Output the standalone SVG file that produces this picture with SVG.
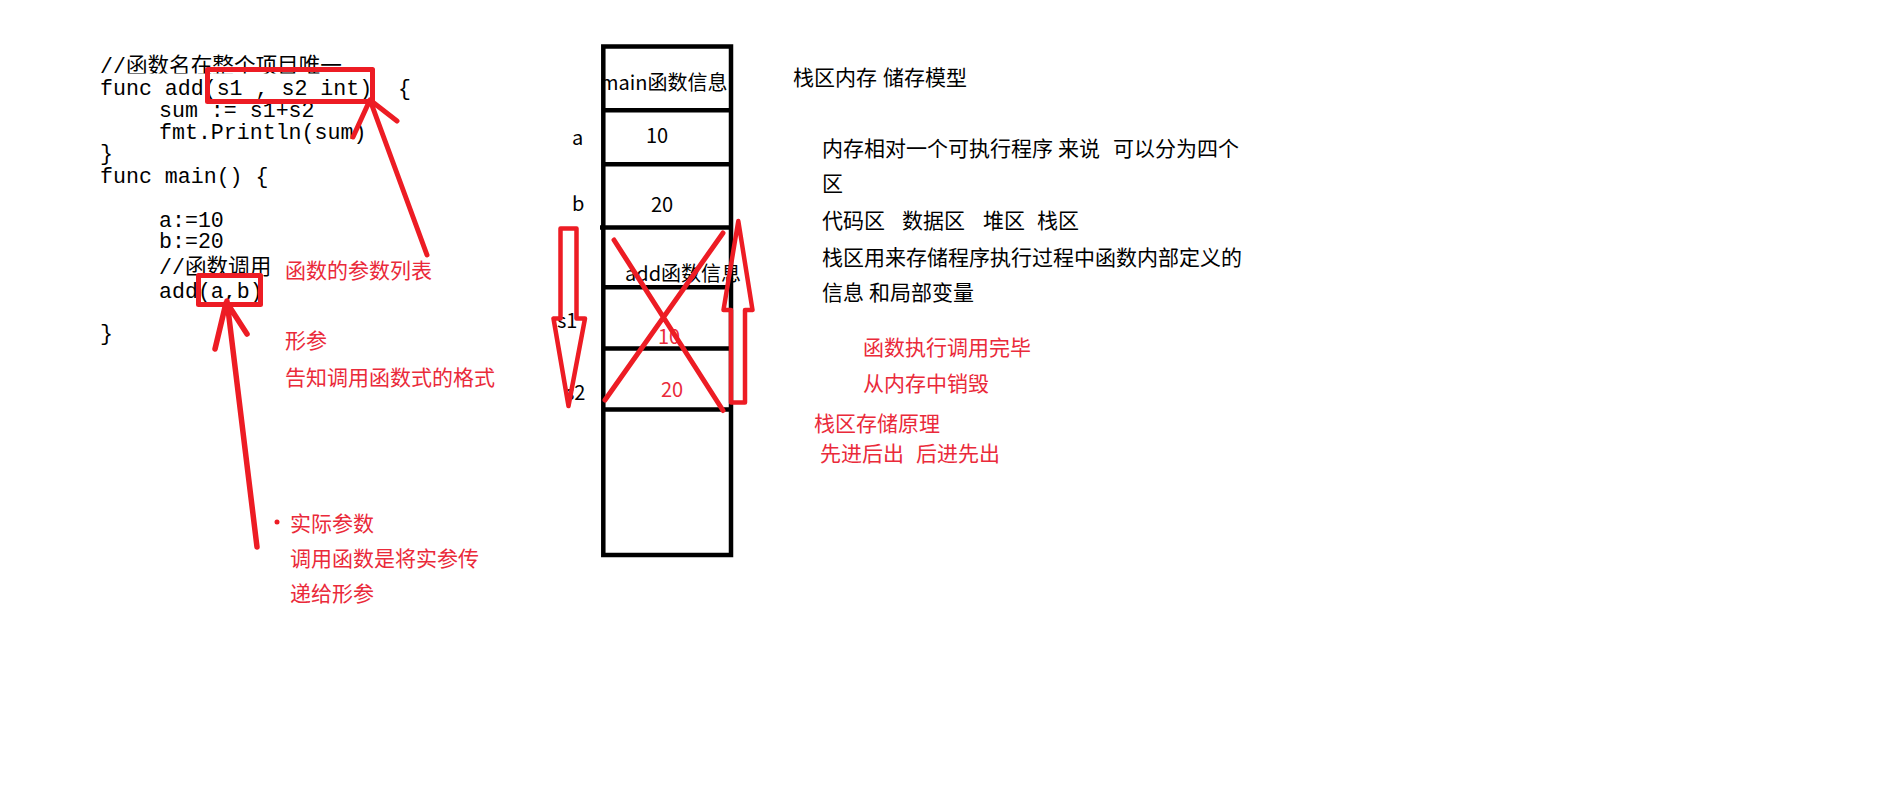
<svg xmlns="http://www.w3.org/2000/svg" width="1902" height="806" viewBox="0 0 1902 806">
<style>
.code{font-family:"Liberation Mono","Noto Sans CJK SC",monospace;font-size:21.6px;fill:#000}
.cjk{font-family:"Noto Sans CJK SC","Noto Sans",sans-serif;font-size:21px;fill:#000}
.stk{font-family:"Noto Sans CJK SC","Noto Sans",sans-serif;font-size:20px;fill:#000}
.red{fill:#ea2a3a}
.rs{fill:none;stroke:#ed1c24;stroke-width:5;stroke-linecap:round;stroke-linejoin:round}
.bk{fill:none;stroke:#000;stroke-width:4.5}
</style>
<defs>
<clipPath id="clipTop"><rect x="0" y="0" width="600" height="73.5"/></clipPath>
<clipPath id="clipSum"><rect x="0" y="103" width="600" height="40"/></clipPath>
</defs>
<rect width="1902" height="806" fill="#fff"/>

<g id="code">
<text class="code" x="100" y="73" clip-path="url(#clipTop)">//函数名在整个项目唯一</text>
<text class="code" x="100" y="95" xml:space="preserve">func add(s1 , s2 int)  {</text>
<text class="code" x="159" y="117" clip-path="url(#clipSum)">sum := s1+s2</text>
<text class="code" x="159" y="139">fmt.Println(sum)</text>
<text class="code" x="100" y="160">}</text>
<text class="code" x="100" y="183">func main() {</text>
<text class="code" x="159" y="227">a:=10</text>
<text class="code" x="159" y="248">b:=20</text>
<text class="code" x="159" y="274">//函数调用</text>
<text class="code" x="159" y="298">add(a,b)</text>
<text class="code" x="100" y="340">}</text>
</g>

<g id="param-boxes">
<rect class="rs" x="207.5" y="69.5" width="165" height="32" stroke-linecap="butt" stroke-linejoin="miter"/>
<rect class="rs" x="198.5" y="275.5" width="62" height="29" stroke-linecap="butt" stroke-linejoin="miter"/>
</g>

<g id="annotations">
<text class="cjk red" x="285" y="278">函数的参数列表</text>
<text class="cjk red" x="285" y="348">形参</text>
<text class="cjk red" x="285" y="385">告知调用函数式的格式</text>
<circle cx="277" cy="522" r="2.5" fill="#ed1c24"/>
<text class="cjk red" x="290" y="531">实际参数</text>
<text class="cjk red" x="290" y="566">调用函数是将实参传</text>
<text class="cjk red" x="290" y="601">递给形参</text>
</g>

<g id="stack">
<rect class="bk" x="603.3" y="46.5" width="127.7" height="508.5"/>
<line class="bk" x1="603" y1="110.2" x2="731" y2="110.2"/>
<line class="bk" x1="603" y1="164.3" x2="731" y2="164.3"/>
<line class="bk" x1="600" y1="227.5" x2="731" y2="227.5"/>
<line class="bk" x1="603" y1="287.2" x2="731" y2="287.2"/>
<line class="bk" x1="603" y1="348.5" x2="731" y2="348.5"/>
<line class="bk" x1="603" y1="409.5" x2="731" y2="409.5"/>
<text class="stk" x="600" y="90">main函数信息</text>
<text class="stk" x="572" y="145">a</text>
<text class="stk" x="646" y="143">10</text>
<text class="stk" x="572" y="211">b</text>
<text class="stk" x="651" y="212">20</text>
<text class="stk" x="625" y="281">add函数信息</text>
<text class="stk" x="557" y="328">s1</text>
<text class="stk red" x="658" y="344">10</text>
<text class="stk" x="565" y="400">s2</text>
<text class="stk red" x="661" y="397">20</text>
</g>

<g id="notes">
<text class="cjk" x="793" y="85">栈区内存<tspan x="883">储存模型</tspan></text>
<text class="cjk" x="822" y="156">内存相对一个可执行程序<tspan x="1058">来说</tspan><tspan x="1113">可以分为四个</tspan></text>
<text class="cjk" x="822" y="191">区</text>
<text class="cjk" x="822" y="228">代码区<tspan x="902">数据区</tspan><tspan x="983">堆区</tspan><tspan x="1037">栈区</tspan></text>
<text class="cjk" x="822" y="265">栈区用来存储程序执行过程中函数内部定义的</text>
<text class="cjk" x="822" y="300">信息<tspan x="869">和局部变量</tspan></text>
<text class="cjk red" x="863" y="355">函数执行调用完毕</text>
<text class="cjk red" x="863" y="391">从内存中销毁</text>
<text class="cjk red" x="814" y="431">栈区存储原理</text>
<text class="cjk red" x="820" y="461">先进后出<tspan x="916">后进先出</tspan></text>
</g>

<g id="connectors">
<path class="rs" d="M427,255 L370,100 M370,100 L397,121 M369,102 L353,137"/>
<path class="rs" d="M257,547 L227,301 M226,303 L215,349 M229,306 L247,334" style="stroke-width:5.5"/>
<path class="rs" d="M614,240 L723,410.5 M723,233 L605,400"/>
<polygon class="rs" style="stroke-width:4.5" points="560.5,228.5 576.5,228.5 576.5,318.5 585,318.5 568.5,406 553.5,318.5 560.5,318.5"/>
<polygon class="rs" style="stroke-width:4.5" points="738.3,221 752.5,310 745,310 745,402.5 731,402.5 731,310 723.5,310"/>
</g>
</svg>
